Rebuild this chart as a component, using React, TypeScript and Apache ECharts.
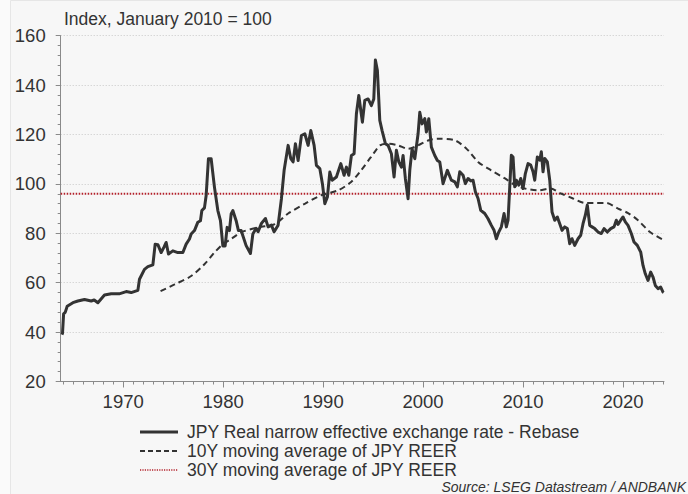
import React, { useEffect, useRef } from "react";
import * as echarts from "echarts";

const reerYears = [
  1963.87, 1963.93, 1964.04, 1964.2, 1964.4, 1964.97, 1965.47, 1966.13, 1966.8, 1967.1, 1967.47,
  1968.13, 1968.8, 1969.6, 1970.3, 1970.8, 1971.47, 1971.63, 1972.13, 1972.47, 1972.97,
  1973.2, 1973.47, 1973.8, 1974.07, 1974.3, 1974.53, 1974.97, 1975.47, 1975.97, 1976.3,
  1976.63, 1976.8, 1977.13, 1977.47, 1977.73, 1977.87, 1978.13, 1978.3, 1978.53, 1978.8,
  1979.13, 1979.47, 1979.73, 1979.97, 1980.2, 1980.4, 1980.63, 1980.8, 1980.97, 1981.3,
  1981.53, 1981.8, 1982.3, 1982.73, 1982.97, 1983.3, 1983.5, 1983.83, 1984.23, 1984.5,
  1984.83, 1985.1, 1985.5, 1985.83, 1986.1, 1986.5, 1986.77, 1987.0, 1987.23, 1987.5,
  1987.83, 1988.17, 1988.5, 1988.77, 1989.1, 1989.33, 1989.67, 1989.93, 1990.17, 1990.43,
  1990.67, 1990.9, 1991.33, 1991.77, 1992.1, 1992.33, 1992.57, 1992.83, 1993.1, 1993.33,
  1993.57, 1993.77, 1993.93, 1994.17, 1994.5, 1994.83, 1995.07, 1995.23, 1995.43, 1995.67,
  1995.9, 1996.23, 1996.5, 1996.83, 1997.1, 1997.33, 1997.57, 1997.83, 1998.0, 1998.23,
  1998.5, 1998.67, 1998.9, 1999.17, 1999.5, 1999.67, 1999.9, 2000.17, 2000.33, 2000.57,
  2000.83, 2001.17, 2001.43, 2001.67, 2002.0, 2002.43, 2002.83, 2003.17, 2003.43, 2003.67,
  2004.0, 2004.23, 2004.5, 2004.77, 2005.0, 2005.23, 2005.5, 2005.77, 2006.17, 2006.5,
  2006.83, 2007.1, 2007.33, 2007.57, 2007.83, 2008.1, 2008.33, 2008.5, 2008.67, 2008.83,
  2009.0, 2009.17, 2009.33, 2009.57, 2009.77, 2010.0, 2010.23, 2010.5, 2010.77, 2011.0,
  2011.17, 2011.43, 2011.67, 2011.83, 2012.0, 2012.17, 2012.43, 2012.67, 2012.9, 2013.17,
  2013.43, 2013.67, 2013.9, 2014.17, 2014.43, 2014.67, 2014.9, 2015.17, 2015.5, 2015.77,
  2016.0, 2016.23, 2016.43, 2016.67, 2016.9, 2017.17, 2017.5, 2017.83, 2018.1, 2018.43,
  2018.77, 2019.1, 2019.33, 2019.5, 2019.77, 2020.0, 2020.23, 2020.5, 2020.83, 2021.1,
  2021.43, 2021.77, 2022.0, 2022.23, 2022.5, 2022.77, 2023.0, 2023.23, 2023.5, 2023.77,
  2024.0, 2024.07,
];
const reerValues = [
  39, 39.5, 47.4, 48, 50.5, 51.9, 52.6, 53.2, 52.6, 53, 51.9,
  55, 55.5, 55.5, 56.4, 56, 56.9, 61.4, 65.4, 66.5, 67.2,
  75.6, 75.4, 72.2, 74.3, 76.3, 71.6, 72.9, 72.2, 72.2, 75.6,
  77.7, 79.7, 81.1, 84.5, 85.1, 89.2, 90.3, 95.3, 110.2, 110.2,
  98.7, 89.2, 85.1, 74.9, 74.9, 82.4, 81.1, 87.8, 89.2, 85.1,
  81.1, 81.1, 75, 71.8, 79.7, 82, 80.6, 84, 86, 82.6,
  83.3, 80.6, 83.3, 94, 105.5, 115.6, 110.2, 108.9, 116.3, 109.5,
  119.6, 120.3, 115.6, 121.6, 115.6, 107.5, 106.2, 100.1, 92, 94.7,
  104.8, 101.5, 102.8, 108.2, 103.5, 106.8, 103.5, 111.5, 112.2, 128.4,
  135.8, 129.7, 125, 133.8, 134.4, 131.7, 134.4, 150.2, 145.9, 125.7,
  121.6, 116.3, 115.6, 112.2, 102.8, 113.6, 108.9, 106.8, 111.5, 102.1,
  94, 105.5, 114.2, 110.2, 120.3, 129, 124.3, 126.4, 121, 126.4,
  114.9, 111.5, 109.5, 108.9, 100.1, 105.5, 101.5, 100.8, 98.8, 104.9,
  103.5, 100.1, 102.2, 101.2, 101.5, 96.8, 94.1, 89.3, 88, 85.9,
  83.2, 81.2, 77.8, 80.5, 82.6, 88, 82.6, 85.3, 98.8, 111.6,
  110.9, 98.8, 101.5, 99.5, 102.2, 98.1, 104.2, 108.2, 107.6, 104.9,
  101.5, 110.9, 109.6, 113, 104.9, 110.3, 108.9, 101.5, 88.6, 85.3,
  86.6, 83.9, 81.2, 82.6, 81.9, 75.8, 77.8, 75.1, 77.8, 79.2,
  83.9, 87.3, 91.4, 83.2, 82.6, 81.9, 80.5, 79.9, 81.9, 80.5,
  81.9, 82.6, 85.3, 83.6, 85.3, 86.6, 84.6, 83.2, 79.9, 76.5,
  75.1, 72.4, 67, 63.6, 60.9, 64.3, 62.3, 58.9, 57.6, 58.2,
  56.2, 56,
];

const ma10Years = [
  1973.74, 1975.14, 1976.8, 1978.13, 1979.13, 1979.97, 1980.8, 1981.8, 1983.5, 1985.17,
  1986.5, 1988.2, 1989.8, 1991.5, 1992.8, 1993.8, 1994.8, 1995.7, 1996.5, 1997.5,
  1998.5, 1999.5, 2000.5, 2001.5, 2003.2, 2004.5, 2005.5, 2006.8, 2008.2, 2009.2,
  2010.2, 2011.5, 2012.7, 2013.8, 2015.0, 2016.2, 2017.2, 2018.3, 2019.5, 2020.5,
  2021.5, 2022.7, 2024.0,
];
const ma10Values = [
  56.6, 59.3, 62.7, 67.5, 72.2, 75.6, 77.7, 80.4, 82.4, 83.7,
  88, 92, 95.4, 97.4, 100.8, 105.5, 110.9, 115.6, 116.3, 115.6,
  114.2, 115.6, 117.6, 118.3, 117.6, 113.6, 108.9, 105.5, 102.2, 99.5,
  98.1, 97.4, 98.1, 96.1, 94.1, 92.3, 92.3, 92.3, 90, 88.2,
  85.3, 80.5, 77.4,
];

const ma30Years = [1963.75, 2024.1];
const ma30Values = [96, 96];

const decadeLabels = [1970, 1980, 1990, 2000, 2010, 2020];
const yearTicks = [
  1964, 1965, 1966, 1967, 1968, 1969, 1970, 1971, 1972, 1973, 1974, 1975, 1976, 1977,
  1978, 1979, 1980, 1981, 1982, 1983, 1984, 1985, 1986, 1987, 1988, 1989, 1990, 1991,
  1992, 1993, 1994, 1995, 1996, 1997, 1998, 1999, 2000, 2001, 2002, 2003, 2004, 2005,
  2006, 2007, 2008, 2009, 2010, 2011, 2012, 2013, 2014, 2015, 2016, 2017, 2018, 2019,
  2020, 2021, 2022, 2023, 2024,
];

const seriesNames = [
  "JPY Real narrow effective exchange rate - Rebase",
  "10Y moving average of JPY REER",
  "30Y moving average of JPY REER",
];
const subtitle = "Index, January 2010 = 100";
const source = "Source: LSEG Datastream / ANDBANK";

const FONT = "'Liberation Sans', Arial, Helvetica, sans-serif";
const DARK = "#333333";
const RED = "#b3202a";

export default function App() {
  const ref = useRef<HTMLDivElement>(null);

  useEffect(() => {
    document.body.style.margin = "0";
    document.body.style.background = "#fafafa";
    if (!ref.current) return;
    const chart = echarts.init(ref.current, undefined, { renderer: "svg" });

    const zip = (xs: number[], ys: number[]) => xs.map((x, i) => [x, ys[i]]);

    const legendRows = [
      { y: 432, stroke: DARK, width: 3, dash: null as number[] | null },
      { y: 451, stroke: DARK, width: 2, dash: [5, 3] },
      { y: 470, stroke: RED, width: 1.5, dash: [1.2, 1.2] },
    ];
    const legendGraphics: any[] = [];
    legendRows.forEach((r, i) => {
      legendGraphics.push({
        type: "line",
        shape: { x1: 140, y1: r.y, x2: 178, y2: r.y },
        style: { stroke: r.stroke, lineWidth: r.width, lineDash: r.dash || undefined },
        silent: true,
      });
      legendGraphics.push({
        type: "text",
        x: 187,
        y: r.y,
        style: {
          text: seriesNames[i],
          fill: DARK,
          font: `17.5px ${FONT}`,
          lineHeight: 17,
          textVerticalAlign: "middle",
        },
      });
    });

    chart.setOption({
      animation: false,
      backgroundColor: "transparent",
      textStyle: { fontFamily: FONT },
      grid: { left: 60.7, right: 24, top: 35.7, bottom: 112.5, containLabel: false },
      graphic: [
        {
          type: "rect",
          left: 10,
          top: 0,
          z: -10,
          shape: { width: 678, height: 494 },
          style: { fill: "#f7f7f7", stroke: "#e6e6e6", lineWidth: 1 },
          silent: true,
        },
        {
          type: "text",
          x: 64,
          y: 19,
          style: {
            text: subtitle,
            fill: DARK,
            font: `17.5px ${FONT}`,
            textVerticalAlign: "middle",
          },
        },
        ...legendGraphics,
        {
          type: "text",
          x: 686,
          y: 487,
          style: {
            text: source,
            fill: DARK,
            font: `italic 14px ${FONT}`,
            lineHeight: 14,
            textAlign: "right",
            textVerticalAlign: "middle",
          },
        },
      ],
      xAxis: [
        {
          type: "value",
          min: 1963.75,
          max: 2024.1,
          axisLine: { onZero: false, lineStyle: { color: "#8a8a8a", width: 1 } },
          axisTick: { show: true, customValues: yearTicks, length: 3, lineStyle: { color: "#8a8a8a" } },
          axisLabel: {
            customValues: decadeLabels,
            formatter: (v: number) => String(Math.round(v)),
            fontSize: 18.5,
            color: DARK,
            margin: 10,
            fontFamily: FONT,
          },
          splitLine: { show: false },
        },
        {
          type: "value",
          position: "bottom",
          min: 1963.75,
          max: 2024.1,
          axisLine: { show: false, onZero: false },
          axisTick: { show: true, customValues: decadeLabels, length: 6, lineStyle: { color: "#8a8a8a" } },
          axisLabel: { show: false },
          splitLine: { show: false },
        },
      ],
      yAxis: {
        type: "value",
        min: 20,
        max: 160,
        interval: 20,
        axisLine: { show: true, lineStyle: { color: "#8a8a8a", width: 1 } },
        axisTick: { show: true, length: 5, lineStyle: { color: "#8a8a8a" } },
        minorTick: { show: true, splitNumber: 5, length: 3, lineStyle: { color: "#8a8a8a" } },
        axisLabel: { fontSize: 18.5, color: DARK, margin: 15, fontFamily: FONT },
        splitLine: { show: true, lineStyle: { color: "#c8c8c8", type: [1, 2], width: 1 } },
      },
      series: [
        {
          name: seriesNames[0],
          type: "line",
          xAxisIndex: 0,
          data: zip(reerYears, reerValues),
          showSymbol: false,
          symbol: "none",
          lineStyle: { color: DARK, width: 3, join: "round" },
          itemStyle: { color: DARK },
          z: 3,
        },
        {
          name: seriesNames[1],
          type: "line",
          xAxisIndex: 0,
          data: zip(ma10Years, ma10Values),
          showSymbol: false,
          symbol: "none",
          smooth: 0.3,
          lineStyle: { color: DARK, width: 2, type: [6, 4] },
          itemStyle: { color: DARK },
          z: 2,
        },
        {
          name: seriesNames[2],
          type: "line",
          xAxisIndex: 0,
          data: zip(ma30Years, ma30Values),
          showSymbol: false,
          symbol: "none",
          lineStyle: { color: RED, width: 2, type: [1.5, 1.5] },
          itemStyle: { color: RED },
          z: 1,
        },
      ],
    });

    return () => chart.dispose();
  }, []);

  return <div ref={ref} style={{ width: 688, height: 494 }} />;
}
